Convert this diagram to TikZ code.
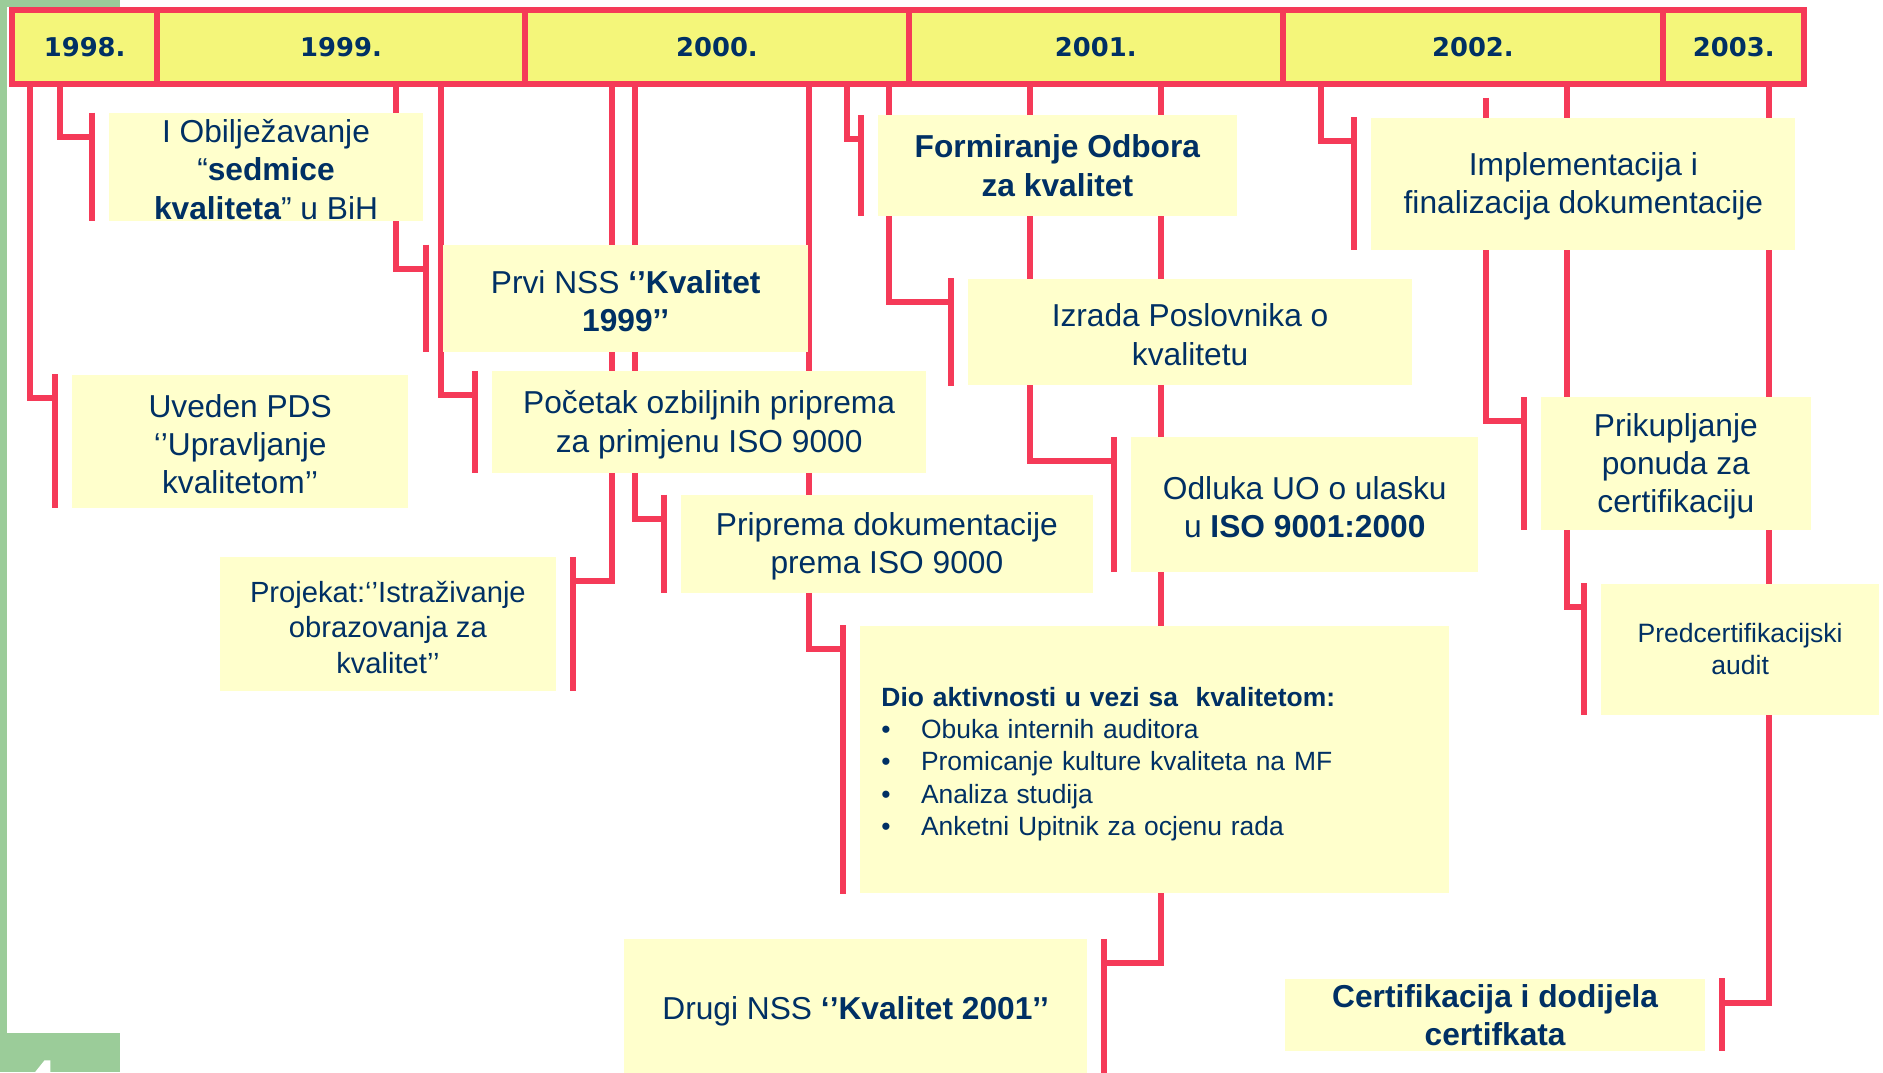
\documentclass[tikz,border=0pt]{standalone}
\usepackage{fontspec}
\setmainfont{Liberation Sans}
\newfontfamily\godfont{DejaVu Sans}
\usetikzlibrary{backgrounds}
\definecolor{crvena}{RGB}{245,58,88}
\definecolor{zuta}{RGB}{244,246,122}
\definecolor{svzuta}{RGB}{255,255,204}
\definecolor{plava}{RGB}{0,48,100}
\definecolor{zelena}{RGB}{155,204,153}
% malo spusta tekst u okviru
\newcommand{\razmak}{\rule{0pt}{23.5pt}}
\tikzset{
  godina/.style={draw=crvena, line width=5pt, fill=zuta, text=plava, minimum height=62pt,
    inner sep=0pt, font=\godfont\bfseries\fontsize{21.5}{24}\selectfont},
  okvir/.style={fill=svzuta, text=plava, align=center, inner sep=0pt,
    font=\fontsize{26.4}{31.8}\selectfont},
  veza/.style={draw=crvena, line width=5pt},
}
\begin{document}
\begin{tikzpicture}[x=1pt, y=-1pt]
\useasboundingbox (0,0) rectangle (1568,893);
\clip (0,0) rectangle (1568,893);

% zeleni rub slajda
\fill[zelena] (0,0) rectangle (100,6);
\fill[zelena] (0,0) rectangle (6,893);
\fill[zelena] (0,860) rectangle (100,893);
\fill[white] (29,893)--(37,883)--(42,883)--(42,893)--cycle;

% godine
\foreach \g/\a/\b in {1998/10/131, 1999/131/437, 2000/437/757, 2001/757/1068, 2002/1068/1385, 2003/1385/1502.5}
  \node (y\g) at ({(\a+\b)/2},39)[godina, minimum width={(\b-\a)*1pt}]{\g.};

% dogadjaji
\node (obilj) at (221.5,139)[okvir, minimum width=261pt, minimum height=90pt]
  {\razmak I Obilježavanje\\“\textbf{sedmice}\\\textbf{kvaliteta}” u BiH};
\node (pds) at (200,367.5)[okvir, minimum width=280pt, minimum height=111pt]
  {\razmak Uveden PDS\\‘’Upravljanje\\kvalitetom’’};
\node (nss1) at (521,248.5)[okvir, minimum width=304pt, minimum height=89pt]
  {\razmak Prvi NSS \textbf{‘’Kvalitet}\\\textbf{1999’’}};
\node (pocetak) at (590.5,351.5)[okvir, minimum width=361pt, minimum height=85pt]
  {\razmak Početak ozbiljnih priprema\\za primjenu ISO 9000};
\node (projekat) at (323,519.5)[okvir, minimum width=280pt, minimum height=111pt,
  font=\fontsize{24.3}{29.5}\selectfont]
  {\razmak Projekat:‘’Istraživanje\\obrazovanja za\\kvalitet’’};
\node (priprema) at (738.5,453)[okvir, minimum width=343pt, minimum height=82pt]
  {\razmak Priprema dokumentacije\\prema ISO 9000};
\node (odbor) at (880.5,138)[okvir, minimum width=299pt, minimum height=84pt,
  font=\bfseries\fontsize{26.4}{31.8}\selectfont]
  {Formiranje Odbora\\za kvalitet};
\node (poslovnik) at (991,276.5)[okvir, minimum width=370pt, minimum height=89pt]
  {\razmak Izrada Poslovnika o\\kvalitetu};
\node (odluka) at (1086.5,420)[okvir, minimum width=289pt, minimum height=112pt]
  {\razmak Odluka UO o ulasku\\u \textbf{ISO 9001:2000}};
\node (aktiv) at (961.5,632.5)[okvir, align=left, text width=455pt, inner xsep=18pt,
  minimum height=223pt, font=\fontsize{22}{26.75}\selectfont]
  {\razmak\textbf{Dio aktivnosti u vezi sa\ \ kvalitetom:}\\
   \makebox[33pt][l]{•}Obuka internih auditora\\
   \makebox[33pt][l]{•}Promicanje kulture kvaliteta na MF\\
   \makebox[33pt][l]{•}Analiza studija\\
   \makebox[33pt][l]{•}Anketni Upitnik za ocjenu rada};
\node (nss2) at (712.5,840)[okvir, minimum width=385pt, minimum height=116pt]
  {\razmak Drugi NSS \textbf{‘’Kvalitet 2001’’}};
\node (implem) at (1318.5,153)[okvir, minimum width=353pt, minimum height=110pt]
  {\razmak Implementacija i\\finalizacija dokumentacije};
\node (ponude) at (1395.5,386)[okvir, minimum width=225pt, minimum height=110pt]
  {\razmak Prikupljanje\\ponuda za\\certifikaciju};
\node (audit) at (1449,540.5)[okvir, minimum width=232pt, minimum height=109pt,
  font=\fontsize{22.1}{26}\selectfont]
  {Predcertifikacijski\\audit};
\node (certif) at (1245,845)[okvir, minimum width=350pt, minimum height=60pt,
  font=\bfseries\fontsize{26.4}{31.8}\selectfont]
  {Certifikacija i dodijela\\certifkata};

% veze od godina do okvira
\begin{scope}[on background layer]
\foreach \yr/\dx/\bx in {y1998/25/pds, y1998/50/obilj, y1999/330/nss1, y1999/367/pocetak,
    y2000/529/priprema, y2000/674/aktiv, y2000/705/odbor, y2000/740/poslovnik,
    y2001/858/odluka, y2002/1100/implem, y2002/1305/audit}
{
  \draw[veza] (\yr.south -| \dx,0) |- ([shift={(-14,20)}]\bx.north west);
  \draw[veza] ([shift={(-14,0)}]\bx.north west) -- ([shift={(-14,0)}]\bx.south west);
}
\foreach \yr/\dx/\bx in {y2000/510/projekat, y2001/967/nss2, y2003/1473/certif}
{
  \draw[veza] (\yr.south -| \dx,0) |- ([shift={(14,20)}]\bx.north east);
  \draw[veza] ([shift={(14,0)}]\bx.north east) -- ([shift={(14,0)}]\bx.south east);
}
% ova linija ne dodiruje traku
\draw[veza] ([shift={(0,9)}]y2002.south -| 1237,0) |- ([shift={(-14,20)}]ponude.north west);
\draw[veza] ([shift={(-14,0)}]ponude.north west) -- ([shift={(-14,0)}]ponude.south west);
\end{scope}
\end{tikzpicture}
\end{document}
